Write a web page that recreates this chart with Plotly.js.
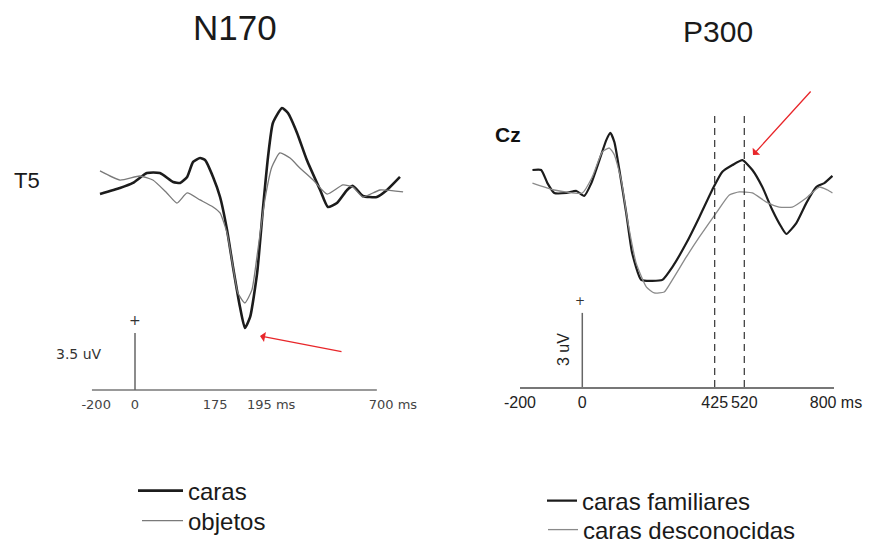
<!DOCTYPE html>
<html>
<head>
<meta charset="utf-8">
<script src="https://cdn.plot.ly/plotly-3.0.1.min.js"></script>
<style>html,body{margin:0;padding:0;background:#fff;}#chart{width:872px;height:544px;}</style>
</head>
<body>
<div id="chart"></div>
<script>
// ---------- N170 (electrode T5) ----------
const n170TimeCaras = [-100,-43,-6,34,71,109,129,149,166,186,200,223,243,263,280,300,314,329,349,366,380,394,420,437,463,491,529,551,577,606,623,651,691,720,757];
const n170Caras = [-0.25,0.12,0.43,1.04,1.04,0.49,0.43,0.80,1.72,1.96,1.84,0.80,-0.43,-2.45,-4.72,-7.18,-8.47,-7.79,-5.09,-1.04,2.02,4.11,5.03,4.72,3.50,1.84,0.00,-1.04,-0.80,0.00,0.25,-0.37,-0.43,0.00,0.80];
const n170TimeObjetos = [-100,-43,14,51,91,120,149,186,223,243,263,280,294,314,334,351,371,391,414,443,471,509,549,594,623,651,700,766];
const n170Objetos = [1.17,0.61,0.86,0.61,-0.18,-0.80,-0.18,-0.61,-1.04,-1.41,-2.64,-4.72,-6.32,-6.93,-6.13,-3.68,-0.61,1.41,2.27,1.96,1.35,0.61,-0.25,0.31,0.18,-0.43,0.00,-0.12];
const n170TickVals = [-111, 0, 229, 389, 737];
const n170TickText = ['-200', '0', '175', '195 ms', '700 ms'];
const n170ScaleUV = 3.5;

// ---------- P300 (electrode Cz) ----------
const p300TimeFam = [-160,-132,-112,-90,-51,-19,6,29,55,77,90,103,119,141,160,189,225,257,289,334,376,417,449,482,514,546,578,610,639,655,687,719,751,777,803];
const p300Fam = [0.81,0.81,0.28,-0.12,-0.12,-0.04,-0.24,0.28,1.21,2.02,2.31,1.94,0.81,-0.93,-2.55,-3.64,-3.68,-3.64,-3.12,-2.15,-1.09,0.00,0.73,1.01,1.21,0.81,0.12,-0.81,-1.50,-1.78,-1.34,-0.53,0.12,0.28,0.57];
const p300TimeDesc = [-160,-90,0,32,64,87,103,125,145,173,206,231,263,289,334,376,430,472,504,546,591,632,674,719,761,787,803];
const p300Desc = [0.28,0.00,-0.12,0.53,1.54,1.70,1.42,0.40,-1.21,-2.96,-3.93,-4.17,-4.13,-3.64,-2.71,-1.90,-0.93,-0.20,-0.08,-0.12,-0.49,-0.69,-0.69,-0.32,0.12,0.00,-0.12];
const p300TickVals = [-200, 0, 425, 520, 800];
const p300TickText = ['-200', '0', '425', '520', '\u00a0\u00a0800 ms'];
const p300Markers = [425, 520];
const p300ScaleUV = 3;

const FONT = 'Liberation Sans, Arial, sans-serif';
const leftY = [-12.577, 7.975];
const leftBase = -12.27;
const rightY = [-7.976, 5.263];

const traces = [
  {x: n170TimeCaras, y: n170Caras, name: 'caras', type: 'scatter', mode: 'lines',
   line: {color: '#1c1c1c', width: 2.6, shape: 'spline', smoothing: 0.5}, xaxis: 'x', yaxis: 'y', legend: 'legend'},
  {x: n170TimeObjetos, y: n170Objetos, name: 'objetos', type: 'scatter', mode: 'lines',
   line: {color: '#7a7a7a', width: 1.3, shape: 'spline', smoothing: 0.5}, xaxis: 'x', yaxis: 'y', legend: 'legend2'},
  {x: p300TimeFam, y: p300Fam, name: 'caras familiares', type: 'scatter', mode: 'lines',
   line: {color: '#1c1c1c', width: 2.2, shape: 'spline', smoothing: 0.5}, xaxis: 'x2', yaxis: 'y2', legend: 'legend3'},
  {x: p300TimeDesc, y: p300Desc, name: 'caras desconocidas', type: 'scatter', mode: 'lines',
   line: {color: '#8a8a8a', width: 1.3, shape: 'spline', smoothing: 0.5}, xaxis: 'x2', yaxis: 'y2', legend: 'legend4'}
];

const shapes = [
  // N170 baseline axis
  {type: 'line', xref: 'x', yref: 'y', x0: -123, x1: 691, y0: leftBase, y1: leftBase, line: {color: '#777', width: 1.5}},
  // N170 scale bar
  {type: 'line', xref: 'x', yref: 'y', x0: 0, x1: 0, y0: leftBase, y1: leftBase + n170ScaleUV, line: {color: '#666', width: 1.5}},
  // P300 scale bar
  {type: 'line', xref: 'x2', yref: 'y2', x0: 0, x1: 0, y0: rightY[0], y1: rightY[0] + p300ScaleUV, line: {color: '#666', width: 1.5}}
];
p300Markers.forEach(function (m) {
  shapes.push({type: 'line', xref: 'x2', yref: 'y2', x0: m, x1: m, y0: rightY[0], y1: 3.16,
    line: {color: '#333', width: 1.2, dash: '7px,5px'}});
});

function legendAt(px, py, iw) {
  return {x: px / 872, y: (544 - py) / 544, xanchor: 'left', yanchor: 'middle',
    bgcolor: 'rgba(0,0,0,0)', borderwidth: 0, itemwidth: iw,
    font: {family: FONT, size: 24, color: '#1a1a1a'}};
}

const layout = {
  width: 872, height: 544,
  margin: {l: 0, r: 0, t: 0, b: 0, pad: 0, autoexpand: false},
  paper_bgcolor: '#fff', plot_bgcolor: '#fff',
  showlegend: true,
  xaxis: {domain: [40 / 872, 430 / 872], range: [-271.43, 842.86], showgrid: false, zeroline: false,
    showline: false, ticks: '', tickangle: 0, tickvals: n170TickVals, ticktext: n170TickText,
    tickfont: {family: 'DejaVu Sans, Verdana, sans-serif', size: 13, color: '#444'}, anchor: 'y'},
  yaxis: {domain: [(544 - 395) / 544, (544 - 60) / 544], range: leftY, visible: false, anchor: 'x'},
  xaxis2: {domain: [520 / 872, 834 / 872], range: [-200, 808], showgrid: false, zeroline: false,
    showline: true, linecolor: '#777', linewidth: 1.5, ticks: '', tickangle: 0, ticklabeloverflow: 'allow',
    tickvals: p300TickVals, ticktext: p300TickText,
    tickfont: {family: FONT, size: 16, color: '#222'}, anchor: 'y2'},
  yaxis2: {domain: [(544 - 387) / 544, (544 - 60) / 544], range: rightY, visible: false, anchor: 'x2'},
  legend: legendAt(133, 491, 45),
  legend2: legendAt(137, 521, 41),
  legend3: legendAt(542, 501, 30),
  legend4: legendAt(543, 530, 30),
  shapes: shapes,
  annotations: [
    {text: 'N170', xref: 'paper', yref: 'paper', x: 235 / 872, y: (544 - 27) / 544, showarrow: false,
     xanchor: 'center', yanchor: 'middle', font: {family: FONT, size: 35, color: '#1a1a1a'}},
    {text: 'P300', xref: 'paper', yref: 'paper', x: 718 / 872, y: (544 - 31) / 544, showarrow: false,
     xanchor: 'center', yanchor: 'middle', font: {family: FONT, size: 30, color: '#1a1a1a'}},
    {text: 'T5', xref: 'paper', yref: 'paper', x: 27 / 872, y: (544 - 180) / 544, showarrow: false,
     xanchor: 'center', yanchor: 'middle', font: {family: FONT, size: 22, color: '#1a1a1a'}},
    {text: '<b>Cz</b>', xref: 'paper', yref: 'paper', x: 508 / 872, y: (544 - 134) / 544, showarrow: false,
     xanchor: 'center', yanchor: 'middle', font: {family: FONT, size: 21, color: '#111'}},
    {text: '3.5 uV', xref: 'paper', yref: 'paper', x: 79 / 872, y: (544 - 354) / 544, showarrow: false,
     xanchor: 'center', yanchor: 'middle', font: {family: 'DejaVu Sans, Verdana, sans-serif', size: 14, color: '#333'}},
    {text: '3 uV', xref: 'paper', yref: 'paper', x: 564 / 872, y: (544 - 350) / 544, showarrow: false, textangle: -90,
     xanchor: 'center', yanchor: 'middle', font: {family: FONT, size: 16, color: '#222'}},
    {text: '+', xref: 'x', yref: 'y', x: 0, y: leftBase + n170ScaleUV, yshift: 13, showarrow: false,
     font: {family: 'DejaVu Sans, sans-serif', size: 14, color: '#333'}},
    {text: '+', xref: 'x2', yref: 'y2', x: 0, y: rightY[0] + p300ScaleUV, yshift: 12, xshift: -2, showarrow: false,
     font: {family: 'DejaVu Sans, sans-serif', size: 12, color: '#333'}},
    {text: '', xref: 'paper', yref: 'paper', x: 260 / 872, y: (544 - 336) / 544, ax: 83, ay: 16,
     showarrow: true, arrowhead: 1, arrowsize: 1.3, arrowwidth: 1.3, arrowcolor: '#e8262a'},
    {text: '', xref: 'paper', yref: 'paper', x: 753 / 872, y: (544 - 155) / 544, ax: 59, ay: -65,
     showarrow: true, arrowhead: 1, arrowsize: 1.3, arrowwidth: 1.3, arrowcolor: '#e8262a'}
  ]
};

Plotly.newPlot('chart', traces, layout, {displayModeBar: false, staticPlot: true});
</script>
</body>
</html>
